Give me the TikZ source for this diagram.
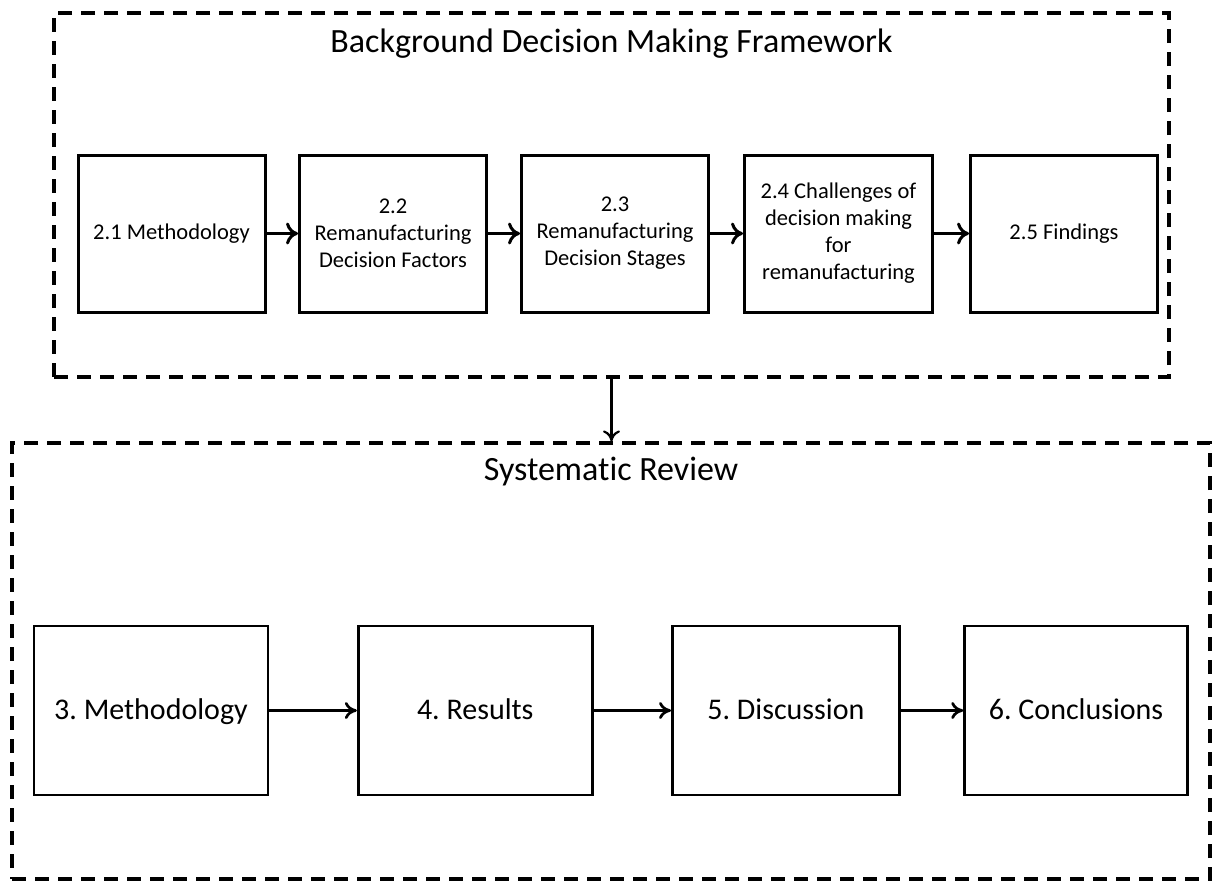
\documentclass[tikz,border=0pt]{standalone}
\usepackage{fontspec}
\setmainfont{Carlito}[Ligatures=NoCommon]
\usepackage{tikz}
\usetikzlibrary{positioning}
\usetikzlibrary{arrows.meta}
\frenchspacing

\begin{document}
\begin{tikzpicture}[x=1pt, y=-1pt,
		groupbox/.style={draw, dash pattern=on 14pt off 9pt, line width=3.2pt, inner sep=0pt},
		secbox/.style={draw, line width=3pt, minimum width=187pt, minimum height=157pt, inner sep=2pt, align=center, font=\fontsize{22.5}{27}\selectfont},
		chapbox/.style={draw, line width=2.7pt, minimum height=169pt, inner sep=2pt, text height=22pt, text depth=4pt, align=center, font=\fontsize{30}{36}\selectfont},
		flow/.style={-{To[length=12pt, width=22pt]}, line width=3pt},
		title/.style={anchor=base, font=\fontsize{34}{40}\selectfont}]
			\useasboundingbox (0,0) rectangle (1212,881);
			
			\node[groupbox, minimum width=1115pt, minimum height=364pt] at (611.5, 195) (background) {};
			\node[groupbox, minimum width=1198pt, minimum height=436pt] at (611, 661) (review) {};
			\node[title] at (611.5, 52) (lbg) {Background Decision Making Framework};
			\node[title] at (611, 480) (lrev) {Systematic Review};
			
			\node[secbox] at (171.5, 233.5) (s1) {2.1 Methodology};
			\node[secbox, right=31.5pt of s1] (s2) {2.2\\Remanufacturing\\Decision Factors};
			\node[secbox, right=32pt of s2] (s3) {2.3\\Remanufacturing\\Decision Stages};
			\node[secbox, right=33pt of s3, minimum width=188pt] (s4) {2.4 Challenges of\\decision making\\for\\remanufacturing};
			\node[secbox, right=35pt of s4] (s5) {2.5 Findings};
			
			\node[chapbox, minimum width=234pt] at (151, 710.5) (c3) {3. Methodology};
			\node[chapbox, minimum width=234pt, right=87.5pt of c3] (c4) {4. Results};
			\node[chapbox, minimum width=227pt, right=77.5pt of c4] (c5) {5. Discussion};
			\node[chapbox, minimum width=223pt, right=62.5pt of c5] (c6) {6. Conclusions};
			
			\path [flow] (s1) edge (s2) (s2) edge (s3) (s3) edge (s4) (s4) edge (s5);
			\path [flow, line width=2.7pt, -{To[length=12pt, width=17pt]}] (c3) edge (c4) (c4) edge (c5) (c5) edge (c6);
			\draw [flow, line width=2.2pt, -{To[length=11pt, width=17pt]}] (background.south) -- (background.south |- review.north);
			
		\end{tikzpicture}
\end{document}
